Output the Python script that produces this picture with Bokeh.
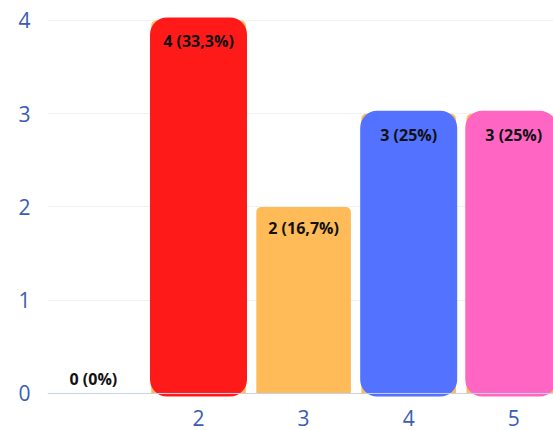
from bokeh.plotting import figure
from bokeh.models import Range1d, FixedTicker, Span, ColumnDataSource
from bokeh.core.properties import value
from bokeh.embed import file_html
from bokeh.resources import INLINE

categories = [1, 2, 3, 4, 5]
counts = [0, 4, 2, 3, 3]
labels = ["0 (0%)", "4 (33,3%)", "2 (16,7%)", "3 (25%)", "3 (25%)"]
base_color = "#ffbb58"
colors = ["#ffbb58", "#ff1a1a", "#ffbb58", "#5272ff", "#ff66c4"]
x_ticks = [2, 3, 4, 5]
y_ticks = [0, 1, 2, 3, 4]

y0, y1 = -0.054, 4.064
frame_h = 384
px_per_unit = frame_h / (y1 - y0)

p = figure(width=553, height=430, x_range=Range1d(0.563, 5.378), y_range=Range1d(y0, y1),
           output_backend="svg", toolbar_location=None,
           min_border_left=47, min_border_right=0, min_border_top=14, min_border_bottom=32)
p.outline_line_color = None
p.background_fill_color = "white"

# base bars
p.vbar(x=categories, top=counts, bottom=0, width=0.9, fill_color=base_color, line_color=None,
       border_radius=(5, 5, 0, 0))

# overlay rounded bars
ov = [i for i, c in enumerate(colors) if c != base_color]
src = ColumnDataSource(dict(x=[categories[i] for i in ov], top=[counts[i] for i in ov],
                            c=[colors[i] for i in ov]))
p.vbar(x="x", top="top", bottom=0, width=0.866, source=src, fill_color="c", line_color="c",
       line_width=6, border_radius=14)

# labels
ly = [(v - 21 / px_per_unit) if v > 0 else (v + 14.5 / px_per_unit) for v in counts]
p.text(x=categories, y=ly, text=labels, text_align="center", text_baseline="middle",
       text_font=value("Open Sans"), text_font_style="bold", text_font_size="16px",
       text_color="#111111")

p.add_layout(Span(location=0, dimension="width", line_color="#c5d0ec", line_width=1))

p.xgrid.grid_line_color = None
p.ygrid.ticker = FixedTicker(ticks=[t for t in y_ticks if t > 0])
p.ygrid.grid_line_color = "#f0f1f7"
p.ygrid.level = "underlay"

p.xaxis.ticker = FixedTicker(ticks=x_ticks)
p.yaxis.ticker = FixedTicker(ticks=y_ticks)
for ax in (p.xaxis, p.yaxis):
    ax.axis_line_color = None
    ax.major_tick_line_color = None
    ax.minor_tick_line_color = None
    ax.major_tick_out = 0
    ax.major_tick_in = 0
    ax.major_label_text_font = "Open Sans"
    ax.major_label_text_font_size = "21px"
    ax.major_label_text_color = "#3a5db5"
p.yaxis.major_label_standoff = 17
p.xaxis.major_label_standoff = 11

open("out.html", "w").write(file_html(p, INLINE))
